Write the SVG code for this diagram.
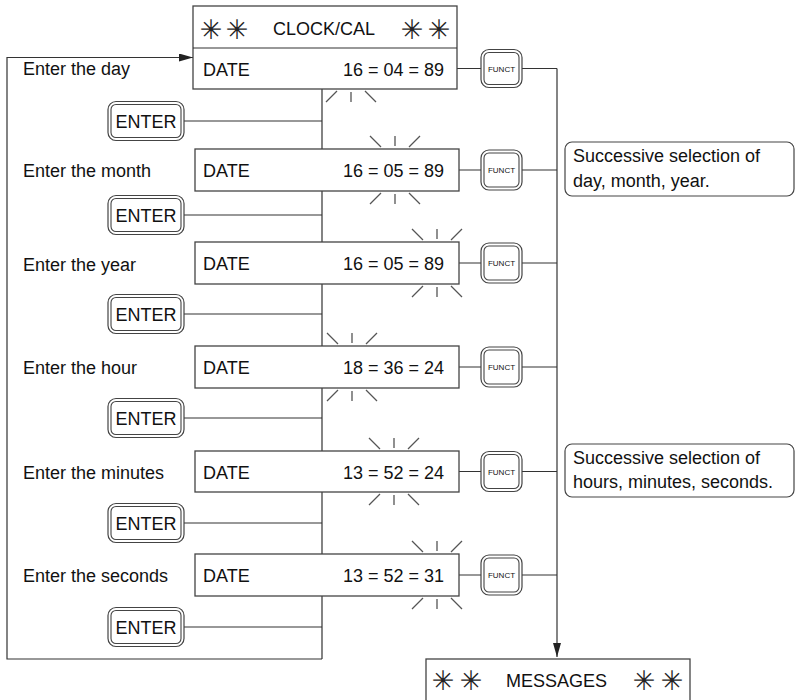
<svg xmlns="http://www.w3.org/2000/svg" width="796" height="700" viewBox="0 0 796 700">
<style>
.t{font-family:"Liberation Sans",Arial,sans-serif;font-size:18px;fill:#111}
.ast{font-family:"DejaVu Sans",sans-serif;font-size:27px;fill:#222;text-anchor:middle}
.astg{opacity:0.99}
.box{fill:#fff;stroke:#444;stroke-width:1.3}
.ln{fill:none;stroke:#333;stroke-width:1.2}
.fl{stroke:#555;stroke-width:1.3;fill:none}
.bo{fill:#fff;stroke:#444;stroke-width:1.2}
.bi{fill:none;stroke:#444;stroke-width:1.1}
.ft{font-family:"Liberation Sans",Arial,sans-serif;font-size:8px;fill:#111;text-anchor:middle}
.et{font-family:"Liberation Sans",Arial,sans-serif;font-size:18px;fill:#111;text-anchor:middle}
.val{text-anchor:end}
</style>
<defs>
<marker id="ah" markerUnits="userSpaceOnUse" markerWidth="14" markerHeight="8" refX="14" refY="4" orient="auto">
<path d="M0,0 L14,4 L0,8 Z" fill="#222"/>
</marker>
</defs>

<g id="connectors">
<path class="ln" d="M322,659 H7 V57.5 H193" marker-end="url(#ah)"/>
<path class="ln" d="M557,68.5 V657" marker-end="url(#ah)"/>
<path class="ln" d="M322,89 V149 M322,191 V242 M322,284 V346 M322,388 V451 M322,492 V554 M322,596 V659"/>
<path class="ln" d="M184,121 H322 M184,215 H322 M184,314 H322 M184,418 H322 M184,523 H322 M184,627 H322"/>
<path class="ln" d="M457,68.5 H481 M522,68.5 H557 M459,170 H481 M522,170 H557 M459,263 H481 M522,263 H557 M459,367 H481 M522,367 H557 M459,471.5 H481 M522,471.5 H557 M459,575 H481 M522,575 H557"/>
</g>

<g id="flashes">
<path class="fl" d="M326,102 L337,91 M351,92 V102 M365,91 L376,102"/>
<path class="fl" d="M370,136 L381,147 M395,146 V136 M409,147 L420,136 M370,204 L381,193 M395,194 V204 M409,193 L420,204"/>
<path class="fl" d="M412,229 L423,240 M437,239 V229 M451,240 L462,229 M412,297 L423,286 M437,287 V297 M451,286 L462,297"/>
<path class="fl" d="M327,333 L338,344 M352,343 V333 M366,344 L377,333 M327,401 L338,390 M352,391 V401 M366,390 L377,401"/>
<path class="fl" d="M369,438 L380,449 M394,448 V438 M408,449 L419,438 M369,505 L380,494 M394,495 V505 M408,494 L419,505"/>
<path class="fl" d="M412,541 L423,552 M437,551 V541 M451,552 L462,541 M412,609 L423,598 M437,599 V609 M451,598 L462,609"/>
</g>

<g id="clockcal">
<rect class="box" x="193" y="6" width="264" height="83"/>
<line class="ln" x1="193" y1="48" x2="457" y2="48"/>
<g class="astg">
<text class="ast" x="211" y="38.5">✳</text>
<text class="ast" x="237" y="38.5">✳</text>
<text class="ast" x="412" y="38.5">✳</text>
<text class="ast" x="439" y="38.5">✳</text>
</g>
<text class="t" x="273" y="35">CLOCK/CAL</text>
<text class="t" x="203" y="75.5">DATE</text>
<text class="t val" x="444" y="75.5">16 = 04 = 89</text>
</g>

<g id="labels">
<text class="t" x="23" y="75">Enter the day</text>
<text class="t" x="23" y="177">Enter the month</text>
<text class="t" x="23" y="271">Enter the year</text>
<text class="t" x="23" y="374">Enter the hour</text>
<text class="t" x="23" y="479">Enter the minutes</text>
<text class="t" x="23" y="582">Enter the seconds</text>
</g>

<g id="row2"><rect class="box" x="195" y="149" width="264" height="42"/><text class="t" x="203" y="177">DATE</text><text class="t val" x="444" y="177">16 = 05 = 89</text></g>
<g id="row3"><rect class="box" x="195" y="242" width="264" height="42"/><text class="t" x="203" y="270">DATE</text><text class="t val" x="444" y="270">16 = 05 = 89</text></g>
<g id="row4"><rect class="box" x="195" y="346" width="264" height="42"/><text class="t" x="203" y="374">DATE</text><text class="t val" x="444" y="374">18 = 36 = 24</text></g>
<g id="row5"><rect class="box" x="195" y="451" width="264" height="41"/><text class="t" x="203" y="478.5">DATE</text><text class="t val" x="444" y="478.5">13 = 52 = 24</text></g>
<g id="row6"><rect class="box" x="195" y="554" width="264" height="42"/><text class="t" x="203" y="582">DATE</text><text class="t val" x="444" y="582">13 = 52 = 31</text></g>

<g id="enter1"><rect class="bo" x="108" y="101.5" width="76" height="39" rx="8"/><rect class="bi" x="111" y="104.5" width="70" height="33" rx="5"/><text class="et" x="146" y="127.5">ENTER</text></g>
<g id="enter2"><rect class="bo" x="108" y="195.5" width="76" height="39" rx="8"/><rect class="bi" x="111" y="198.5" width="70" height="33" rx="5"/><text class="et" x="146" y="221.5">ENTER</text></g>
<g id="enter3"><rect class="bo" x="108" y="294.5" width="76" height="39" rx="8"/><rect class="bi" x="111" y="297.5" width="70" height="33" rx="5"/><text class="et" x="146" y="320.5">ENTER</text></g>
<g id="enter4"><rect class="bo" x="108" y="398.5" width="76" height="39" rx="8"/><rect class="bi" x="111" y="401.5" width="70" height="33" rx="5"/><text class="et" x="146" y="424.5">ENTER</text></g>
<g id="enter5"><rect class="bo" x="108" y="503.5" width="76" height="39" rx="8"/><rect class="bi" x="111" y="506.5" width="70" height="33" rx="5"/><text class="et" x="146" y="529.5">ENTER</text></g>
<g id="enter6"><rect class="bo" x="108" y="607.5" width="76" height="39" rx="8"/><rect class="bi" x="111" y="610.5" width="70" height="33" rx="5"/><text class="et" x="146" y="633.5">ENTER</text></g>

<g id="funct1"><rect class="bo" x="481" y="49.5" width="41" height="38" rx="8"/><rect class="bi" x="484" y="52.5" width="35" height="32" rx="5"/><text class="ft" x="501.5" y="71.5">FUNCT</text></g>
<g id="funct2"><rect class="bo" x="481" y="150" width="41" height="40" rx="8"/><rect class="bi" x="484" y="153" width="35" height="34" rx="5"/><text class="ft" x="501.5" y="173">FUNCT</text></g>
<g id="funct3"><rect class="bo" x="481" y="243" width="41" height="40" rx="8"/><rect class="bi" x="484" y="246" width="35" height="34" rx="5"/><text class="ft" x="501.5" y="266">FUNCT</text></g>
<g id="funct4"><rect class="bo" x="481" y="347" width="41" height="40" rx="8"/><rect class="bi" x="484" y="350" width="35" height="34" rx="5"/><text class="ft" x="501.5" y="370">FUNCT</text></g>
<g id="funct5"><rect class="bo" x="481" y="451.5" width="41" height="40" rx="8"/><rect class="bi" x="484" y="454.5" width="35" height="34" rx="5"/><text class="ft" x="501.5" y="474.5">FUNCT</text></g>
<g id="funct6"><rect class="bo" x="481" y="555" width="41" height="40" rx="8"/><rect class="bi" x="484" y="558" width="35" height="34" rx="5"/><text class="ft" x="501.5" y="578">FUNCT</text></g>

<g id="note1"><rect class="bo" x="565" y="142" width="229" height="54" rx="7"/><text class="t" x="573" y="162">Successive selection of</text><text class="t" x="573" y="187">day, month, year.</text></g>
<g id="note2"><rect class="bo" x="565" y="444" width="229" height="53" rx="7"/><text class="t" x="573" y="464">Successive selection of</text><text class="t" x="573" y="488">hours, minutes, seconds.</text></g>

<g id="messages">
<rect class="box" x="426" y="659" width="264" height="60"/>
<g class="astg">
<text class="ast" x="443" y="689.5">✳</text>
<text class="ast" x="471" y="689.5">✳</text>
<text class="ast" x="644" y="689.5">✳</text>
<text class="ast" x="672" y="689.5">✳</text>
</g>
<text class="t" x="506" y="687">MESSAGES</text>
</g>
</svg>
